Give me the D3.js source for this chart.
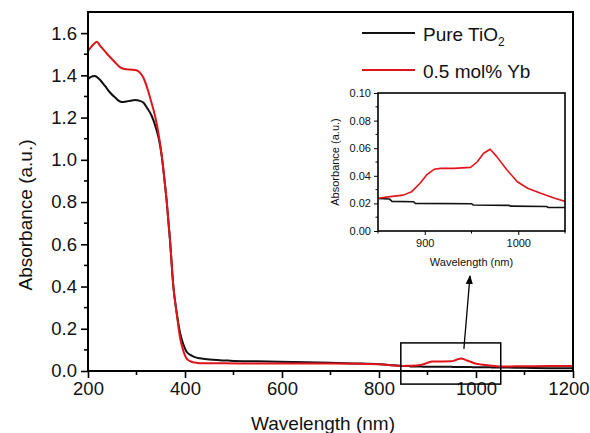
<!DOCTYPE html>
<html><head><meta charset="utf-8">
<script src="https://cdn.jsdelivr.net/npm/d3@7/dist/d3.min.js"></script>
<style>body{margin:0;background:#fff}svg{display:block;font-family:"Liberation Sans",Arial,sans-serif}</style>
</head><body><svg id="c" width="590" height="433"></svg>
<script>
// Data: [wavelength (nm), absorbance (a.u.)]
const pureTiO2 = [
 [200,1.382],[205,1.392],[214,1.397],[225,1.378],[235,1.350],[245,1.320],[256,1.295],[269,1.274],
 [283,1.278],[297,1.283],[307,1.279],[314,1.271],[322,1.245],[331,1.210],[341,1.144],[346,1.100],
 [352,1.020],[357,0.920],[362,0.810],[369,0.622],[376,0.400],[383,0.274],[390,0.179],[396,0.130],
 [403,0.092],[412,0.075],[420,0.066],[431,0.060],[450,0.055],[493,0.049],[550,0.046],[596,0.044],
 [650,0.041],[699,0.039],[750,0.036],[802,0.032],[830,0.027],[850,0.0235],[862,0.0232],[865,0.0215],
 [888,0.0212],[890,0.0200],[950,0.0198],[952,0.0188],[990,0.0186],[992,0.0180],[1030,0.0178],
 [1032,0.0170],[1050,0.0170],[1100,0.0150],[1150,0.0135],[1200,0.0125]
];
const yb05 = [
 [200,1.515],[205,1.530],[212,1.548],[218,1.559],[225,1.540],[240,1.500],[256,1.461],[265,1.440],
 [275,1.430],[290,1.427],[300,1.424],[307,1.413],[315,1.385],[324,1.326],[331,1.270],[338,1.210],[345,1.130],
 [352,1.020],[357,0.920],[362,0.810],[369,0.622],[376,0.400],[383,0.270],[390,0.155],[396,0.100],
 [403,0.060],[412,0.045],[420,0.040],[431,0.037],[450,0.037],[513,0.036],[600,0.036],[700,0.036],
 [802,0.032],[836,0.025],[850,0.0237],[863,0.0249],[877,0.0260],[886,0.0285],[895,0.0346],
 [902,0.0406],[910,0.0447],[917,0.0454],[931,0.0454],[949,0.0461],[956,0.0500],[963,0.0563],
 [970,0.0592],[977,0.0539],[988,0.0442],[999,0.0357],[1010,0.0310],[1024,0.0273],[1039,0.0237],
 [1051,0.0213],[1080,0.0220],[1120,0.0230],[1200,0.0240]
];
const seriesNames = ["Pure TiO", "0.5 mol% Yb"];
const seriesColors = ["#111111", "#e0141b"];
const mainXTicks = [200,400,600,800,1000,1200];
const mainYTicks = [0.0,0.2,0.4,0.6,0.8,1.0,1.2,1.4,1.6];
const insetXTicks = [900,1000];
const insetYTicks = [0.00,0.02,0.04,0.06,0.08,0.10];

const svg = d3.select("#c");
const M = {l:88, r:573, t:12, b:371};
const x = d3.scaleLinear().domain([200,1200]).range([M.l,M.r]);
const y = d3.scaleLinear().domain([0,1.7]).range([M.b,M.t]);

svg.append("defs").append("clipPath").attr("id","mainclip").append("rect")
  .attr("x",M.l).attr("y",M.t).attr("width",M.r-M.l).attr("height",M.b-M.t);

const line = d3.line().x(d=>x(d[0])).y(d=>y(d[1])).curve(d3.curveMonotoneX);
const series = [pureTiO2, yb05];
series.forEach((s,i)=>{
  svg.append("path").datum(s).attr("d",line).attr("fill","none")
    .attr("stroke",seriesColors[i]).attr("stroke-width",2).attr("stroke-linejoin","round")
    .attr("clip-path","url(#mainclip)");
});

// axes
const xAx = d3.axisBottom(x).tickValues(mainXTicks).tickSize(7).tickPadding(4).tickFormat(d3.format("d"));
const gx = svg.append("g").attr("transform",`translate(0,${M.b})`).call(xAx);
const xMinor = d3.range(300,1200,200);
gx.selectAll(".minor").data(xMinor).enter().append("line").attr("class","minor")
  .attr("x1",d=>x(d)).attr("x2",d=>x(d)).attr("y1",0).attr("y2",4).attr("stroke","#000").attr("stroke-width",1.6);
gx.selectAll("text").attr("font-size",18.5).attr("fill","#111").attr("font-family","Liberation Sans, Arial, sans-serif");
gx.selectAll(".tick").filter(d=>d===1200).select("text").attr("text-anchor","end").attr("dx",16);

const yAx = d3.axisLeft(y).tickValues(mainYTicks).tickSize(7).tickPadding(4).tickFormat(d3.format(".1f"));
const gy = svg.append("g").attr("transform",`translate(${M.l},0)`).call(yAx);
const yMinor = d3.range(0.1,1.7,0.2);
gy.selectAll(".minor").data(yMinor).enter().append("line").attr("class","minor")
  .attr("x1",0).attr("x2",-4).attr("y1",d=>y(d)).attr("y2",d=>y(d)).attr("stroke","#000").attr("stroke-width",1.6);
gy.selectAll("text").attr("font-size",18.5).attr("fill","#111").attr("font-family","Liberation Sans, Arial, sans-serif");
[gx,gy].forEach(g=>{g.select(".domain").remove(); g.selectAll(".tick line").attr("stroke-width",1.6);});

// frame
svg.append("rect").attr("x",M.l).attr("y",M.t).attr("width",M.r-M.l).attr("height",M.b-M.t)
  .attr("fill","none").attr("stroke","#000").attr("stroke-width",2);

svg.append("text").attr("x",323).attr("y",430).attr("text-anchor","middle").attr("font-size",19)
  .attr("fill","#111").text("Wavelength (nm)");
svg.append("text").attr("transform","translate(32,215) rotate(-90)").attr("text-anchor","middle")
  .attr("font-size",19).attr("fill","#111").text("Absorbance (a.u.)");

// legend
const leg = [{y:33},{y:70}];
leg.forEach((L,i)=>{
  svg.append("line").attr("x1",362).attr("x2",415).attr("y1",L.y).attr("y2",L.y)
    .attr("stroke",seriesColors[i]).attr("stroke-width",2.2);
  const t = svg.append("text").attr("x",423).attr("y",L.y+8).attr("font-size",19).attr("fill","#111");
  t.append("tspan").text(seriesNames[i]);
  if(i===0) t.append("tspan").attr("font-size",12).attr("dy",5).text("2");
});

// zoom box
svg.append("rect").attr("x",x(845)).attr("y",y(0.133)).attr("width",x(1051)-x(845)).attr("height",y(-0.062)-y(0.133))
  .attr("fill","none").attr("stroke","#000").attr("stroke-width",1.5);

// inset
const I = {l:378, r:565, t:93, b:231};
const xi = d3.scaleLinear().domain([850,1050]).range([I.l,I.r]);
const yi = d3.scaleLinear().domain([0,0.10]).range([I.b,I.t]);
svg.select("defs").append("clipPath").attr("id","insclip").append("rect")
  .attr("x",I.l).attr("y",I.t).attr("width",I.r-I.l).attr("height",I.b-I.t);
const iline = d3.line().x(d=>xi(d[0])).y(d=>yi(d[1]));
series.forEach((s,i)=>{
  svg.append("path").datum(s.filter(d=>d[0]>=830&&d[0]<=1080)).attr("d",iline).attr("fill","none")
    .attr("stroke",seriesColors[i]).attr("stroke-width",1.6).attr("stroke-linejoin","round")
    .attr("clip-path","url(#insclip)");
});
const gxi = svg.append("g").attr("transform",`translate(0,${I.b})`)
  .call(d3.axisBottom(xi).tickValues(insetXTicks).tickSize(4).tickPadding(4).tickFormat(d3.format("d")));
gxi.selectAll(".minor").data([850,950,1050]).enter().append("line").attr("class","minor")
  .attr("x1",d=>xi(d)).attr("x2",d=>xi(d)).attr("y1",0).attr("y2",2.5).attr("stroke","#000");
const gyi = svg.append("g").attr("transform",`translate(${I.l},0)`)
  .call(d3.axisLeft(yi).tickValues(insetYTicks).tickSize(4).tickPadding(3).tickFormat(d3.format(".2f")));
gyi.selectAll(".minor").data(d3.range(0.01,0.1,0.02)).enter().append("line").attr("class","minor")
  .attr("x1",0).attr("x2",-2.5).attr("y1",d=>yi(d)).attr("y2",d=>yi(d)).attr("stroke","#000");
[gxi,gyi].forEach(g=>{g.select(".domain").remove();
  g.selectAll("text").attr("font-size",11).attr("fill","#111").attr("font-family","Liberation Sans, Arial, sans-serif");});
svg.append("rect").attr("x",I.l).attr("y",I.t).attr("width",I.r-I.l).attr("height",I.b-I.t)
  .attr("fill","none").attr("stroke","#000").attr("stroke-width",1.6);
svg.append("text").attr("x",(I.l+I.r)/2).attr("y",266).attr("text-anchor","middle").attr("font-size",11)
  .attr("fill","#111").text("Wavelength (nm)");
svg.append("text").attr("transform",`translate(339,${(I.t+I.b)/2}) rotate(-90)`).attr("text-anchor","middle")
  .attr("font-size",11).attr("fill","#111").text("Absorbance (a.u.)");

svg.select("defs").append("marker").attr("id","ah").attr("viewBox","0 0 10 10").attr("refX",9).attr("refY",5)
  .attr("markerWidth",7).attr("markerHeight",7).attr("orient","auto")
  .append("path").attr("d","M0,1 L10,5 L0,9 Z").attr("fill","#000");
svg.append("line").attr("x1",x(975)).attr("y1",y(0.105)).attr("x2",470).attr("y2",276)
  .attr("stroke","#000").attr("stroke-width",1.3).attr("marker-end","url(#ah)");
</script></body></html>
